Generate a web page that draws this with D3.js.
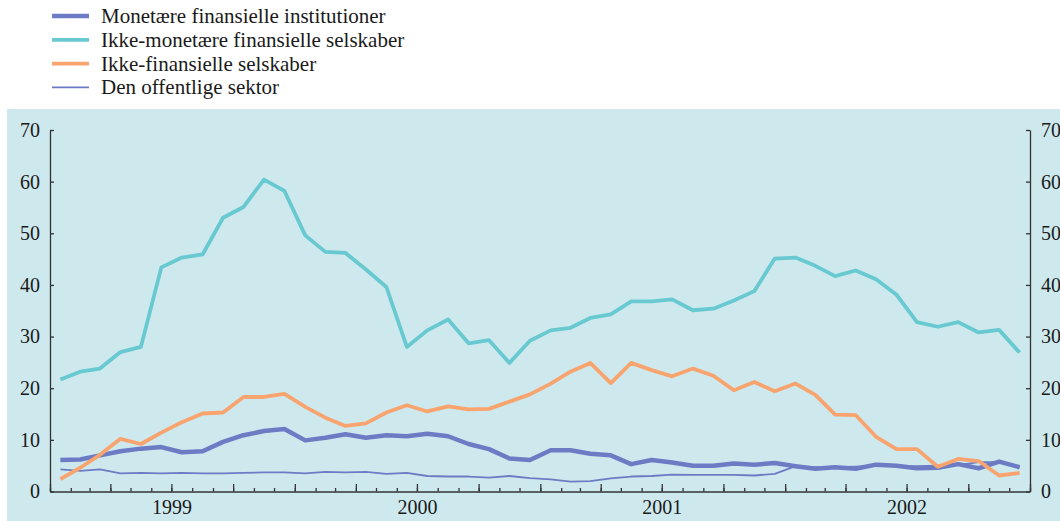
<!DOCTYPE html>
<html>
<head>
<meta charset="utf-8">
<script src="https://cdn.jsdelivr.net/npm/d3@7"></script>
<style>
  body { margin: 0; background: #fff; }
</style>
</head>
<body>
<div id="main"></div>
<script>
// series, monthly values (per cent), Jan 1999 - Dec 2002
var seriesNames = [
  "Monetære finansielle institutioner",
  "Ikke-monetære finansielle selskaber",
  "Ikke-finansielle selskaber",
  "Den offentlige sektor"
];

var monetaere = [
  6.1, 6.2, 7.0, 7.8, 8.3, 8.6, 7.6, 7.8, 9.6, 10.9, 11.7, 12.1,
  9.9, 10.4, 11.1, 10.4, 10.9, 10.7, 11.2, 10.7, 9.2, 8.2, 6.4, 6.1,
  8.0, 8.0, 7.3, 7.0, 5.3, 6.1, 5.6, 5.0, 5.0, 5.4, 5.2, 5.5,
  4.9, 4.4, 4.7, 4.4, 5.2, 5.0, 4.5, 4.6, 5.3, 4.5, 5.8, 4.7
];
var ikkeMonetaere = [
  21.7, 23.2, 23.8, 27.0, 28.0, 43.4, 45.3, 45.9, 53.0, 55.1, 60.4, 58.2,
  49.6, 46.4, 46.2, 43.0, 39.6, 28.0, 31.2, 33.3, 28.7, 29.3, 24.9, 29.2,
  31.2, 31.7, 33.6, 34.3, 36.8, 36.8, 37.2, 35.1, 35.4, 37.0, 38.8, 45.1,
  45.3, 43.7, 41.7, 42.8, 41.1, 38.1, 32.8, 31.9, 32.8, 30.8, 31.3, 26.9
];
var ikkeFinansielle = [
  2.4, 4.6, 7.1, 10.2, 9.2, 11.4, 13.4, 15.1, 15.3, 18.3, 18.3, 18.9,
  16.4, 14.3, 12.7, 13.2, 15.3, 16.7, 15.5, 16.5, 15.9, 16.0, 17.4, 18.8,
  20.9, 23.2, 24.9, 21.0, 24.9, 23.5, 22.3, 23.8, 22.4, 19.6, 21.2, 19.4,
  20.9, 18.7, 14.9, 14.8, 10.6, 8.2, 8.2, 4.8, 6.3, 5.9, 3.1, 3.6
];
var offentlige = [
  4.3, 4.0, 4.3, 3.5, 3.6, 3.5, 3.6, 3.5, 3.5, 3.6, 3.7, 3.7,
  3.5, 3.8, 3.7, 3.8, 3.4, 3.6, 3.0, 2.9, 2.9, 2.7, 3.0, 2.6,
  2.35, 1.9, 2.0, 2.55, 2.9, 3.0, 3.25, 3.2, 3.2, 3.2, 3.1, 3.4,
  4.9, 4.7, 4.7, 4.8, 4.9, 4.9, 4.9, 5.0, 5.1, 5.7, 5.7, 4.6
];

var yTicks = [0, 10, 20, 30, 40, 50, 60, 70];
var yearLabels = [1999, 2000, 2001, 2002];

var colors = ["#6b7cc4", "#68c9d1", "#f9a46f", "#6b7cc4"];
var widths = [4.5, 3.8, 3.8, 1.8];
var serif = "'Liberation Serif', 'Times New Roman', serif";

var W = 1060, H = 521;
var svg = d3.select("#main").append("svg")
    .attr("width", W)
    .attr("height", H);

// background panel
svg.append("rect")
    .attr("x", 7).attr("y", 109)
    .attr("width", W - 7).attr("height", H - 109)
    .attr("fill", "#cde9ee");

var start = new Date(1999, 0, 1), end = new Date(2003, 0, 1);
var months = d3.timeMonth.range(start, end);
// each value sits in the middle of its month
var mid = months.map(function(m) {
  var n = d3.timeMonth.offset(m, 1);
  return new Date((m.getTime() + n.getTime()) / 2);
});

var x = d3.scaleTime().domain([start, end]).range([50, 1030]);
var y = d3.scaleLinear().domain([0, 70]).range([491.5, 130]);

// axes
var gx = svg.append("g").attr("transform", "translate(0,491.5)");
gx.call(d3.axisBottom(x).ticks(d3.timeMonth.every(1)).tickSizeInner(-3.5).tickSizeOuter(0).tickFormat(""));
var gxMajor = svg.append("g").attr("transform", "translate(0,491.5)");
gxMajor.call(d3.axisBottom(x).ticks(d3.timeMonth.every(3)).tickSizeInner(-7.5).tickSizeOuter(0).tickFormat(""));
gxMajor.select(".domain").remove();

var gxLab = svg.append("g").attr("transform", "translate(0,491.5)");
gxLab.call(d3.axisBottom(x)
    .tickValues(yearLabels.map(function(yr) { return new Date(yr, 6, 1); }))
    .tickSize(0).tickPadding(8)
    .tickFormat(d3.timeFormat("%Y")));
gxLab.select(".domain").remove();

var gyL = svg.append("g").attr("transform", "translate(50,0)");
gyL.call(d3.axisLeft(y).tickValues(yTicks).tickSizeInner(-4).tickSizeOuter(0).tickPadding(10));
var gyR = svg.append("g").attr("transform", "translate(1030,0)");
gyR.call(d3.axisRight(y).tickValues(yTicks).tickSizeInner(-4).tickSizeOuter(0).tickPadding(11));

svg.selectAll("g").attr("font-family", serif);
svg.selectAll(".tick text")
    .style("font-family", serif)
    .attr("font-size", 20)
    .attr("fill", "#1a1a1a");
svg.selectAll(".domain, .tick line").attr("stroke", "#333").attr("stroke-width", 1.3);

// lines
var allSeries = [monetaere, ikkeMonetaere, ikkeFinansielle, offentlige];
var line = d3.line()
    .x(function(d, i) { return x(mid[i]); })
    .y(function(d) { return y(d); });

var drawOrder = [3, 0, 1, 2];
drawOrder.forEach(function(k) {
  svg.append("path")
      .attr("d", line(allSeries[k]))
      .attr("fill", "none")
      .attr("stroke", colors[k])
      .attr("stroke-width", widths[k])
      .attr("stroke-linejoin", "round");
});

// legend
var legend = svg.append("g");
seriesNames.forEach(function(name, i) {
  var ly = 16 + i * 23.8;
  legend.append("line")
      .attr("x1", 52).attr("x2", 89)
      .attr("y1", ly).attr("y2", ly)
      .attr("stroke", colors[i])
      .attr("stroke-width", widths[i]);
  legend.append("text")
      .attr("x", 101).attr("y", ly)
      .attr("dy", "0.33em")
      .style("font-family", serif)
      .attr("font-size", 21)
      .attr("fill", "#1a1a1a")
      .text(name);
});
</script>
</body>
</html>
